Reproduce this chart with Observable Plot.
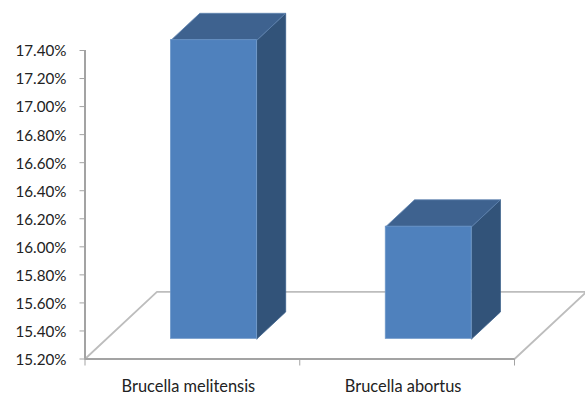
<!DOCTYPE html>
<html>
<head>
<meta charset="utf-8">
<script src="https://cdn.jsdelivr.net/npm/d3@7"></script>
<script src="https://cdn.jsdelivr.net/npm/@observablehq/plot@0.6"></script>
<style>
  html, body { margin: 0; padding: 0; background: #fff; }
  svg { display: block; }
</style>
</head>
<body>
<div id="chart"></div>
<script>
const categories = ["Brucella melitensis", "Brucella abortus"];
const percentages = [17.33, 16.0];
const yTicks = [15.2, 15.4, 15.6, 15.8, 16.0, 16.2, 16.4, 16.6, 16.8, 17.0, 17.2, 17.4];

const yMin = 15.2, yMax = 17.4;

// Oblique projection: one unit of depth shifts a point right and up, in data units.
const depthX = 0.335, depthY = 0.479;
const barWidth = 0.4, depthFront = 0.3, depthBack = 0.7;
const project = (x, y, d) => ({x: x + d * depthX, y: y + d * depthY});

// Floor of the 3D plot area
const floor = [
  project(0, yMin, 0), project(2, yMin, 0), project(2, yMin, 1), project(0, yMin, 1), project(0, yMin, 0)
];

// One cuboid per category, each side face as a closed polygon
const bars = categories.map((name, i) => {
  const x1 = i + 0.5 - barWidth / 2, x2 = i + 0.5 + barWidth / 2, v = percentages[i];
  const front = project(x1, yMin, depthFront), frontEnd = project(x2, v, depthFront);
  return {
    name,
    front: {x1: front.x, x2: frontEnd.x, y1: front.y, y2: frontEnd.y},
    top: [project(x1, v, depthFront), project(x2, v, depthFront), project(x2, v, depthBack), project(x1, v, depthBack), project(x1, v, depthFront)],
    side: [project(x2, yMin, depthFront), project(x2, yMin, depthBack), project(x2, v, depthBack), project(x2, v, depthFront), project(x2, yMin, depthFront)]
  };
});

const labelFont = {fontFamily: "Lato, sans-serif", fontSize: 16.4, fill: "#222"};
const axisGrey = "#a3a3a3";

const chart = Plot.plot({
  width: 585,
  height: 395,
  marginLeft: 84.5,
  marginRight: 71,
  marginTop: 50,
  marginBottom: 36.5,
  style: {background: "#fff", overflow: "visible"},
  x: {domain: [0, 2]},
  y: {domain: [yMin, yMax]},
  marks: [
    Plot.line(floor, {x: "x", y: "y", stroke: "#bdbdbd", strokeWidth: 1.8}),
    Plot.ruleY([yMin], {stroke: axisGrey, strokeWidth: 2}),
    Plot.ruleX([0], {stroke: axisGrey, strokeWidth: 2}),
    Plot.axisX({ticks: [0, 1, 2], tickFormat: () => "", tickSize: 7, stroke: axisGrey, label: null}),
    // Tick marks and tick labels are separate so the labels can sit a pixel lower
    Plot.axisY({ticks: yTicks, tickSize: 5, tickFormat: () => "", label: null, stroke: axisGrey}),
    Plot.axisY({
      ticks: yTicks, tickSize: 0, tickPadding: 18.5, dy: 1, label: null,
      tickFormat: (d) => d.toFixed(2) + "%",
      fontFamily: labelFont.fontFamily, fontSize: 15.2, color: labelFont.fill
    }),
    ...bars.flatMap((b) => [
      Plot.line(b.side, {x: "x", y: "y", fill: "#325379", stroke: "#3a5f8a", strokeWidth: 0.8}),
      Plot.line(b.top, {x: "x", y: "y", fill: "#3e628f", stroke: "#5f84b0", strokeWidth: 0.8}),
      Plot.rect([b.front], {x1: "x1", x2: "x2", y1: "y1", y2: "y2", fill: "#4f81bd", stroke: "#6d97c9", strokeWidth: 0.8})
    ]),
    Plot.text(categories, {
      x: (d, i) => i + 0.5, y: () => yMin, text: (d) => d, dy: 28, dx: -4,
      ...labelFont, textAnchor: "middle"
    })
  ]
});
document.getElementById("chart").append(chart);
</script>
</body>
</html>
